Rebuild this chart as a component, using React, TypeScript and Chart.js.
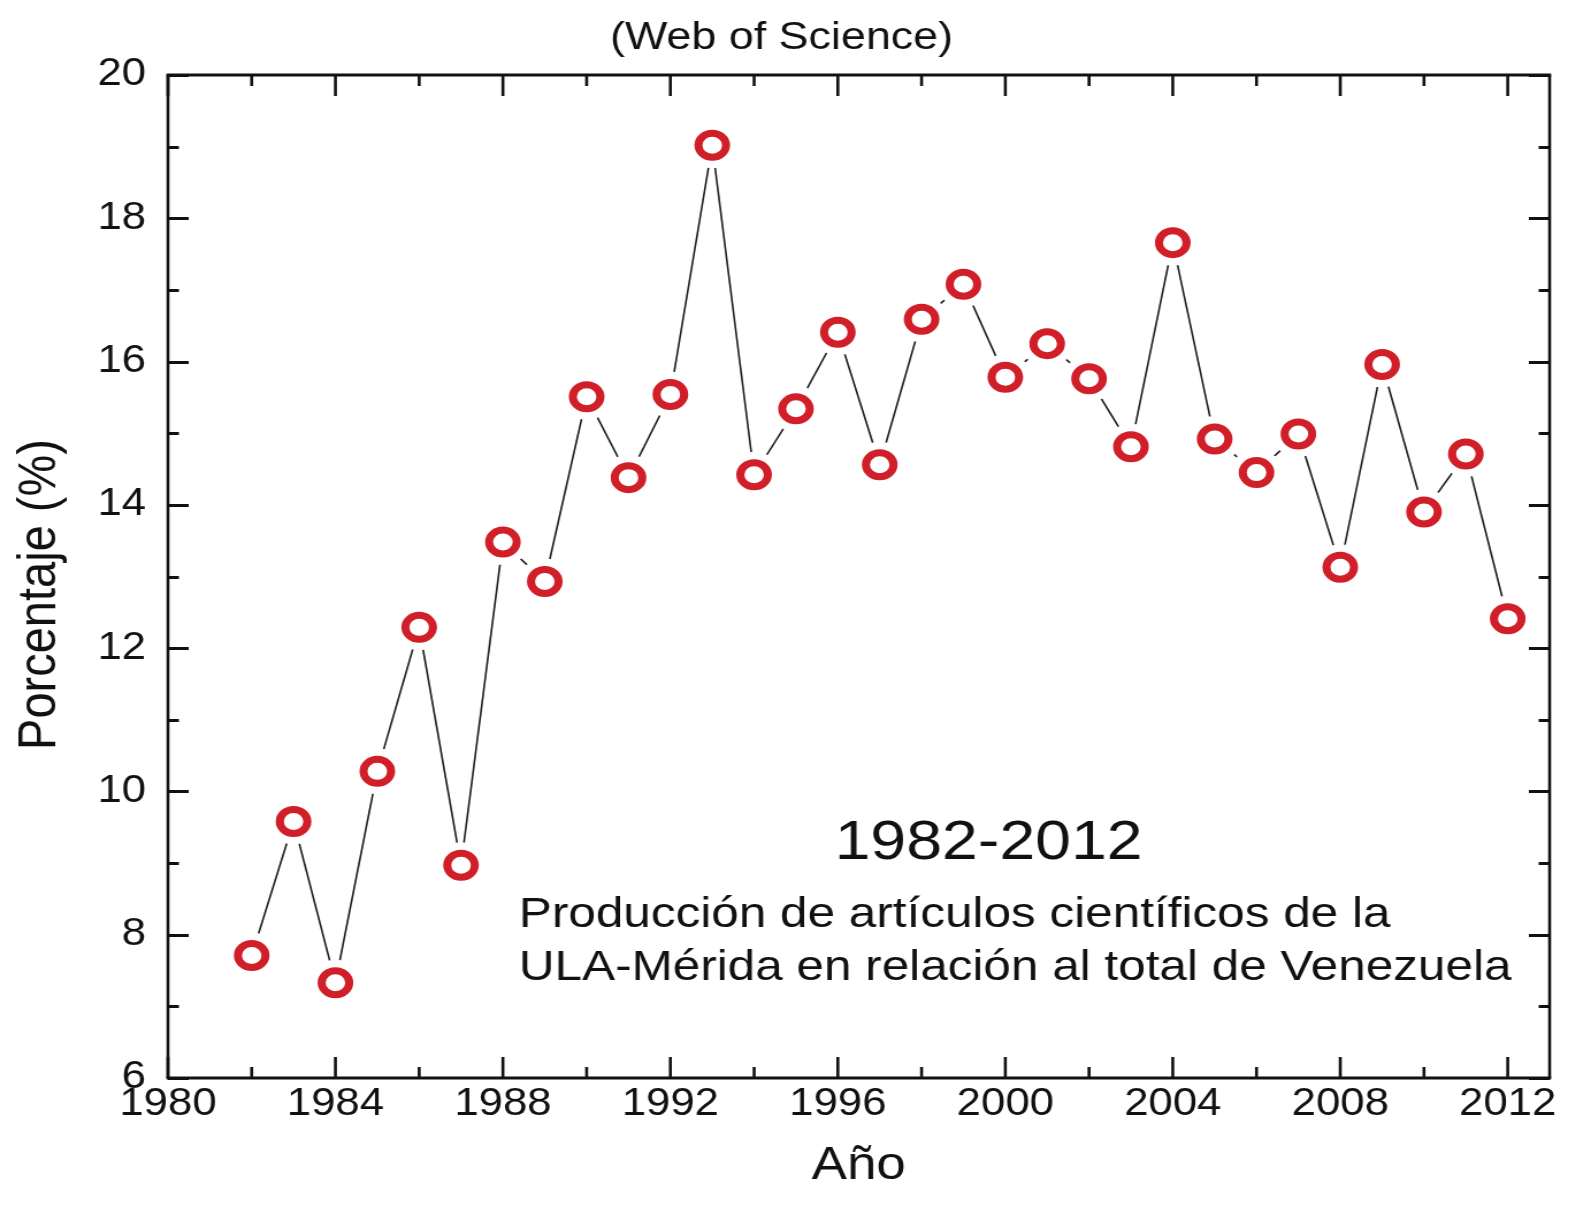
import { useEffect, useRef } from 'react';
import { Chart, registerables } from 'chart.js';

Chart.register(...registerables);

// ---- data ----
const years: number[] = [
  1982, 1983, 1984, 1985, 1986, 1987, 1988, 1989, 1990, 1991, 1992, 1993, 1994, 1995, 1996, 1997,
  1998, 1999, 2000, 2001, 2002, 2003, 2004, 2005, 2006, 2007, 2008, 2009, 2010, 2011, 2012,
];
const porcentaje: number[] = [
  7.71, 9.58, 7.33, 10.28, 12.29, 8.97, 13.48, 12.93, 15.51, 14.38, 15.54, 19.02, 14.42, 15.34, 16.41, 14.56,
  16.59, 17.08, 15.78, 16.25, 15.76, 14.81, 17.66, 14.92, 14.45, 14.99, 13.13, 15.96, 13.9, 14.71, 12.41,
];
const xTicks: number[] = [1980, 1984, 1988, 1992, 1996, 2000, 2004, 2008, 2012];
const yTicks: number[] = [6, 8, 10, 12, 14, 16, 18, 20];
const chartTitle = '(Web of Science)';
const xTitle = 'Año';
const yTitle = 'Porcentaje (%)';
const annotationPeriod = '1982-2012';
const annotationLines: string[] = [
  'Producción de artículos científicos de la',
  'ULA-Mérida en relación al total de Venezuela',
];

const FONT = "'Liberation Sans', Arial, Helvetica, sans-serif";
const INK = '#111111';
const RED = '#d01f28';

// the original picture is stretched horizontally; reproduce by a horizontal scale of the canvas
const STRETCH = 1.1504;
const CANVAS_W = 1370;
const CANVAS_H = 1214;

const points = years.map((yr, i) => ({ x: yr, y: porcentaje[i] }));

const framePlugin = {
  id: 'frameTicks',
  afterDraw(chart: any) {
    const { ctx, chartArea: a, scales } = chart;
    const xs = scales.x;
    const ys = scales.y;
    const MAJOR_V = 21;
    const MINOR_V = 11;
    const MAJOR_H = 18;
    const MINOR_H = 9.5;
    ctx.save();
    ctx.strokeStyle = INK;
    ctx.lineCap = 'butt';
    const seg = (x1: number, y1: number, x2: number, y2: number, w: number) => {
      ctx.lineWidth = w;
      ctx.beginPath();
      ctx.moveTo(x1, y1);
      ctx.lineTo(x2, y2);
      ctx.stroke();
    };
    const VW = 2.6; // vertical strokes (widened by stretch)
    const HW = 3;
    for (let v = xTicks[0]; v <= xTicks[xTicks.length - 1]; v += 2) {
      const px = xs.getPixelForValue(v);
      const len = xTicks.includes(v) ? MAJOR_V : MINOR_V;
      seg(px, a.bottom, px, a.bottom - len, VW);
      seg(px, a.top, px, a.top + len, VW);
    }
    for (let v = yTicks[0]; v <= yTicks[yTicks.length - 1]; v += 1) {
      const py = Math.round(ys.getPixelForValue(v)) + 0.5;
      const len = yTicks.includes(v) ? MAJOR_H : MINOR_H;
      seg(a.left, py, a.left + len, py, HW);
      seg(a.right, py, a.right - len, py, HW);
    }
    // frame
    seg(a.left - 1.3, a.top, a.right + 1.3, a.top, HW);
    seg(a.left - 1.3, a.bottom, a.right + 1.3, a.bottom, HW);
    seg(a.left, a.top, a.left, a.bottom, VW);
    seg(a.right, a.top, a.right, a.bottom, VW);

    // y axis title
    ctx.fillStyle = INK;
    ctx.font = `47px ${FONT}`;
    ctx.textAlign = 'center';
    ctx.textBaseline = 'middle';
    ctx.translate(35, (a.top + a.bottom) / 2 + 18);
    ctx.rotate(-Math.PI / 2);
    ctx.fillText(yTitle, 0, 0);
    ctx.restore();
  },
};

const annotationPlugin = {
  id: 'annotationText',
  afterDatasetsDraw(chart: any) {
    const { ctx, scales } = chart;
    const xs = scales.x;
    const ys = scales.y;
    ctx.save();
    ctx.fillStyle = INK;
    ctx.textBaseline = 'middle';
    ctx.textAlign = 'center';
    ctx.font = `56px ${FONT}`;
    ctx.fillText(annotationPeriod, xs.getPixelForValue(1999.6), ys.getPixelForValue(9.27));
    ctx.textAlign = 'left';
    ctx.font = `43px ${FONT}`;
    const left = xs.getPixelForValue(1988.38);
    ctx.fillText(annotationLines[0], left, ys.getPixelForValue(8.27));
    ctx.fillText(annotationLines[1], left, ys.getPixelForValue(7.54));
    ctx.restore();
  },
};

export default function App() {
  const ref = useRef<HTMLCanvasElement>(null);

  useEffect(() => {
    if (!ref.current) return;
    const chart = new Chart(ref.current, {
      type: 'line',
      data: {
        datasets: [
          {
            label: 'ring',
            data: points,
            showLine: false,
            pointRadius: 12,
            pointBorderWidth: 7,
            pointBorderColor: RED,
            pointBackgroundColor: '#ffffff',
            order: 1,
          },
          {
            label: 'halo',
            data: points,
            showLine: false,
            pointRadius: 23,
            pointBorderWidth: 0,
            pointBorderColor: '#ffffff',
            pointBackgroundColor: '#ffffff',
            order: 2,
          },
          {
            label: 'linea',
            data: points,
            borderColor: '#1e1e1e',
            borderWidth: 1.6,
            pointRadius: 0,
            tension: 0,
            fill: false,
            order: 3,
          },
        ],
      },
      options: {
        responsive: false,
        animation: false,
        devicePixelRatio: 1,
        layout: { padding: { left: 0, right: 11.3, top: 0, bottom: 0 } },
        plugins: {
          legend: { display: false },
          tooltip: { enabled: false },
          title: {
            display: true,
            text: chartTitle,
            color: INK,
            font: { family: FONT, size: 39, weight: 'normal' },
            padding: { top: 14.6, bottom: 13.6 },
          },
        },
        scales: {
          x: {
            type: 'linear',
            min: 1980,
            max: 2013,
            grid: { display: false, drawTicks: false },
            border: { display: false },
            afterFit: (s: any) => {
              s.height = 136;
            },
            ticks: {
              stepSize: 4,
              includeBounds: false,
              padding: 4,
              color: INK,
              font: { family: FONT, size: 38 },
              maxRotation: 0,
              autoSkip: false,
              callback: (v: any) => String(v),
            },
            title: {
              display: true,
              text: xTitle,
              color: INK,
              font: { family: FONT, size: 46 },
              padding: { top: 0, bottom: 20.4 },
            },
          },
          y: {
            type: 'linear',
            min: 6,
            max: 20,
            grid: { display: false, drawTicks: false },
            border: { display: false },
            afterFit: (s: any) => {
              s.width = 146;
            },
            ticks: {
              stepSize: 2,
              padding: 19,
              color: INK,
              font: { family: FONT, size: 38 },
              callback: (v: any) => String(v),
            },
            title: { display: false, text: yTitle },
          },
        },
      },
      plugins: [annotationPlugin, framePlugin],
    } as any);
    return () => chart.destroy();
  }, []);

  return (
    <div style={{ position: 'absolute', left: 0, top: 0, width: 1576, height: CANVAS_H, background: '#ffffff', overflow: 'hidden' }}>
      <div style={{ width: CANVAS_W, height: CANVAS_H, transform: `scaleX(${STRETCH})`, transformOrigin: 'left top' }}>
        <canvas ref={ref} width={CANVAS_W} height={CANVAS_H} style={{ display: 'block', width: CANVAS_W, height: CANVAS_H }} />
      </div>
    </div>
  );
}
